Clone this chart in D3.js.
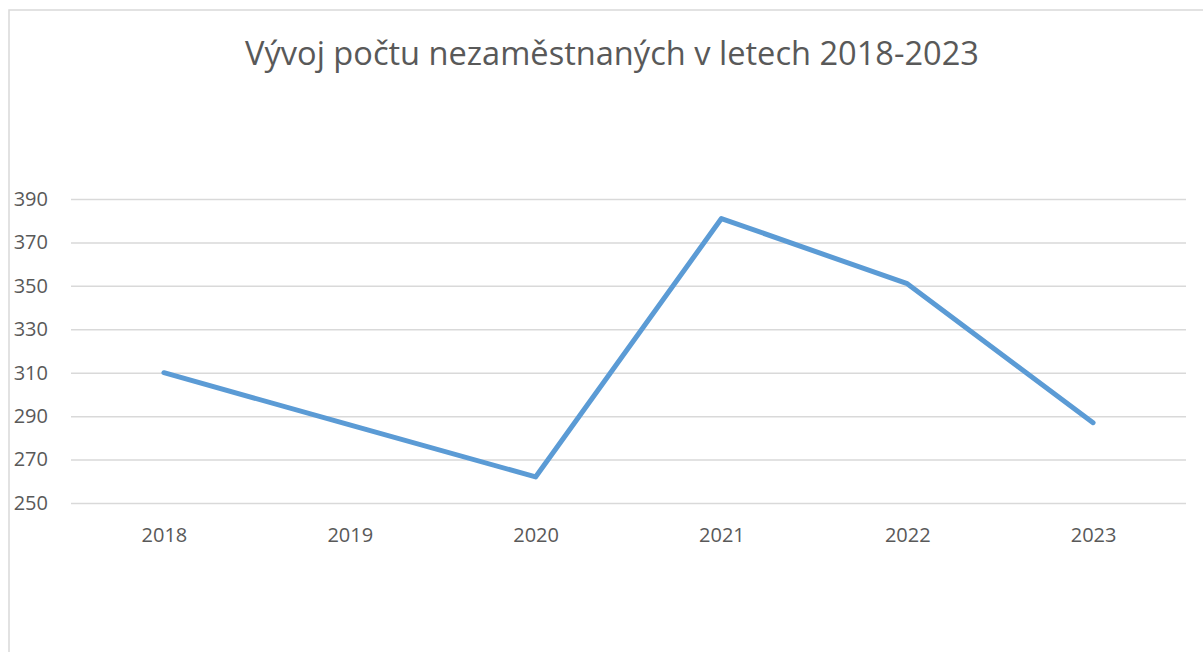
<!DOCTYPE html>
<html>
<head>
<meta charset="utf-8">
<title>Vývoj počtu nezaměstnaných</title>
<script src="https://d3js.org/d3.v7.min.js"></script>
<style>
  body { margin: 0; background: #fff; }
  text { font-family: "Open Sans", "Noto Sans", sans-serif; fill: #595959; }
</style>
</head>
<body>
<div id="chart"></div>
<script>
// data
var years = ["2018", "2019", "2020", "2021", "2022", "2023"];
var unemployed = [310, 286, 262, 381, 351, 287];
var yTicks = [250, 270, 290, 310, 330, 350, 370, 390];
var title = "Vývoj počtu nezaměstnaných v letech 2018-2023";

var W = 1203, H = 652;
var margin = {top: 199, right: 17, bottom: 149, left: 71},
    width = W - margin.left - margin.right,
    height = H - margin.top - margin.bottom;

var svg = d3.select("#chart").append("svg")
    .attr("width", W)
    .attr("height", H);

// outer chart frame (runs off the right/bottom edge)
svg.append("rect")
    .attr("x", 9).attr("y", 10)
    .attr("width", W + 20).attr("height", H + 20)
    .attr("fill", "none")
    .attr("stroke", "#d9d9d9")
    .attr("stroke-width", 1.5);

svg.append("text")
    .attr("x", 612).attr("y", 65)
    .attr("text-anchor", "middle")
    .style("font-size", "32.6px")
    .text(title);

var g = svg.append("g")
    .attr("transform", "translate(" + margin.left + "," + margin.top + ")");

var x = d3.scalePoint()
    .domain(years)
    .range([0, width])
    .padding(0.5);

var y = d3.scaleLinear()
    .domain([250, 390])
    .range([height, 0]);

// gridlines
g.append("g")
    .call(d3.axisLeft(y).tickValues(yTicks).tickSize(-width).tickFormat(""))
    .call(function(s) {
        s.select(".domain").remove();
        s.selectAll("line").attr("stroke", "#d9d9d9").attr("stroke-width", 1.5);
    });

// y labels
g.append("g")
    .call(d3.axisLeft(y).tickValues(yTicks).tickSize(0).tickPadding(23))
    .call(function(s) {
        s.select(".domain").remove();
        s.selectAll("text").style("font-size", "20px").attr("fill", "#595959");
    });

// x labels
g.append("g")
    .attr("transform", "translate(0," + height + ")")
    .call(d3.axisBottom(x).tickSize(0).tickPadding(25))
    .call(function(s) {
        s.select(".domain").remove();
        s.selectAll("text").style("font-size", "20px").attr("fill", "#595959");
    });

var line = d3.line()
    .x(function(d, i) { return x(years[i]); })
    .y(function(d) { return y(d); });

g.append("path")
    .datum(unemployed)
    .attr("d", line)
    .attr("fill", "none")
    .attr("stroke", "#5b9bd5")
    .attr("stroke-width", 5)
    .attr("stroke-linecap", "round")
    .attr("stroke-linejoin", "round");
</script>
</body>
</html>
